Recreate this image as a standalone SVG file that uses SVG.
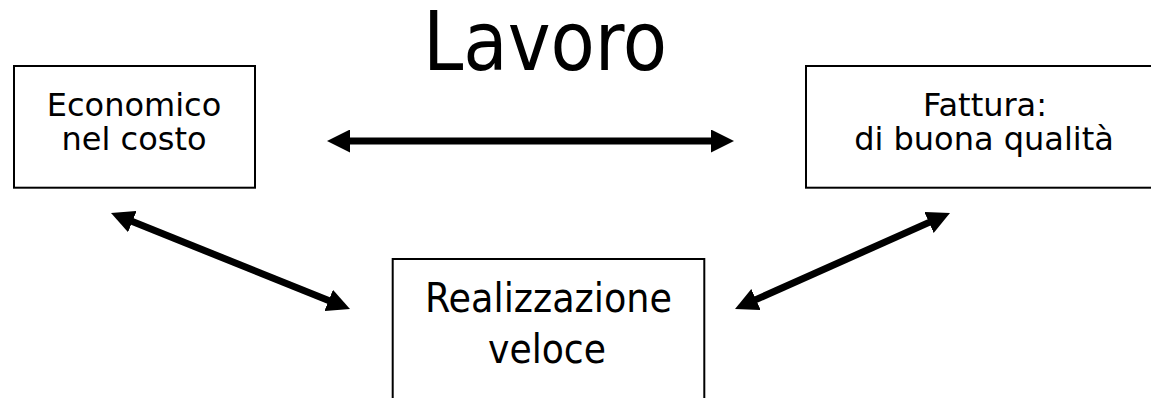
<svg xmlns="http://www.w3.org/2000/svg" width="1151" height="398" viewBox="0 0 1151 398">
  <style>
    .box { fill: #ffffff; stroke: #000000; stroke-width: 2; }
    .t { font-family: "DejaVu Sans", Verdana, sans-serif; font-size: 32px; fill: #000000; text-anchor: middle; }
    .tc { font-family: "DejaVu Sans Condensed", "DejaVu Sans", sans-serif; fill: #000000; text-anchor: middle; }
    .conn { stroke: #000000; stroke-width: 7; fill: none; }
  </style>
  <defs>
    <marker id="ah" markerUnits="userSpaceOnUse" markerWidth="23" markerHeight="23" viewBox="0 0 23 23" refX="2" refY="11.5" orient="auto-start-reverse">
      <path d="M0,0 L23,11.5 L0,23 z" fill="#000000"/>
    </marker>
  </defs>
  <rect width="1151" height="398" fill="#ffffff"/>
  <g id="title">
    <text class="tc" x="545" y="70" font-size="82" textLength="244" lengthAdjust="spacingAndGlyphs">Lavoro</text>
  </g>
  <g id="economico">
    <rect class="box" x="14" y="66" width="241" height="121.7"/>
    <text class="t" x="134" y="116">Economico</text>
    <text class="t" x="134" y="150">nel costo</text>
  </g>
  <g id="fattura">
    <rect class="box" x="806" y="66" width="360" height="121.7"/>
    <text class="t" x="985" y="116">Fattura:</text>
    <text class="t" x="984" y="150">di buona qualità</text>
  </g>
  <g id="realizzazione">
    <rect class="box" x="392.7" y="259" width="311.6" height="160"/>
    <text class="tc" x="548.5" y="312" font-size="41" textLength="247" lengthAdjust="spacingAndGlyphs">Realizzazione</text>
    <text class="tc" x="547" y="363" font-size="41" textLength="118" lengthAdjust="spacingAndGlyphs">veloce</text>
  </g>
  <g id="connectors">
    <line class="conn" x1="348" y1="141" x2="713" y2="141" marker-start="url(#ah)" marker-end="url(#ah)"/>
    <line class="conn" x1="130.5" y1="220.8" x2="330.5" y2="301.2" marker-start="url(#ah)" marker-end="url(#ah)"/>
    <line class="conn" x1="754.2" y1="300.4" x2="930.8" y2="221.6" marker-start="url(#ah)" marker-end="url(#ah)"/>
  </g>
</svg>
